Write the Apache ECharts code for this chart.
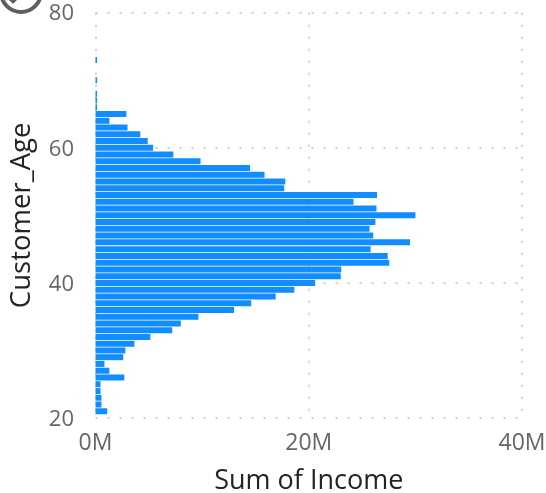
<!DOCTYPE html>
<html><head><meta charset="utf-8">
<style>html,body{margin:0;padding:0;background:#fff}#c{width:546px;height:493px}</style>
<script src="https://cdn.jsdelivr.net/npm/echarts@6/dist/echarts.min.js"></script>
</head><body><div id="c"></div>
<script>
const categories = [20,21,22,23,24,25,26,27,28,29,30,31,32,33,34,35,36,37,38,39,40,41,42,43,44,45,46,47,48,49,50,51,52,53,54,55,56,57,58,59,60,61,62,63,64,65,66,67,68,69,70,71,72,73,74,75,76,77,78,79,80];
const income = [null,1.1,0.56,0.56,0.47,0.47,2.7,1.3,0.84,2.6,2.8,3.65,5.15,7.2,8.0,9.65,13.0,14.6,16.9,18.65,20.6,23.0,23.05,27.55,27.4,25.8,29.5,26.05,25.7,26.25,30.0,26.35,24.2,26.4,17.7,17.8,15.85,14.5,9.85,7.3,5.4,4.9,4.2,3.0,1.3,2.9,0.15,0.15,0.15,null,0.15,null,null,0.15,null,null,null,null,null,null,null];
const xTitle = 'Sum of Income', yTitle = 'Customer_Age';
const font = '"Open Sans"';
const grid = {type:[2,10], color:'#cfcfcf', width:2};
const chart = echarts.init(document.getElementById('c'), null, {renderer:'canvas'});
chart.setOption({
  animation:false,
  grid:{left:95.5,right:24,top:12.7,bottom:75,outerBoundsMode:'none'},
  xAxis:{type:'value',min:0,max:40,interval:20,
    name:xTitle,nameLocation:'middle',nameGap:50,
    nameTextStyle:{fontFamily:font,fontSize:27,color:'#252423'},
    axisLabel:{formatter:v=>v+'M',fontFamily:font,fontSize:23,color:'#666666',margin:13.5},
    axisLine:{show:false},axisTick:{show:false},
    splitLine:{show:true,lineStyle:grid}},
  yAxis:{type:'category',data:categories,boundaryGap:false,
    name:yTitle,nameLocation:'middle',nameGap:59,
    nameTextStyle:{fontFamily:font,fontSize:27.5,color:'#252423'},
    axisLabel:{interval:19,fontFamily:font,fontSize:22,color:'#666666',margin:21.5,verticalAlign:'top',lineHeight:3},
    axisLine:{show:false},axisTick:{show:false},
    splitLine:{show:true,interval:19,lineStyle:grid}},
  series:[{type:'bar',barWidth:6,itemStyle:{color:'#118dff'},data:income}],
  graphic:[
    {type:'circle',shape:{cx:21,cy:-8,r:20},style:{fill:'none',stroke:'#5f5f5f',lineWidth:4}},
    {type:'polygon',shape:{points:[[9,0],[17,0],[13,4]]},style:{fill:'#5f5f5f'}}
  ]
});
</script></body></html>
